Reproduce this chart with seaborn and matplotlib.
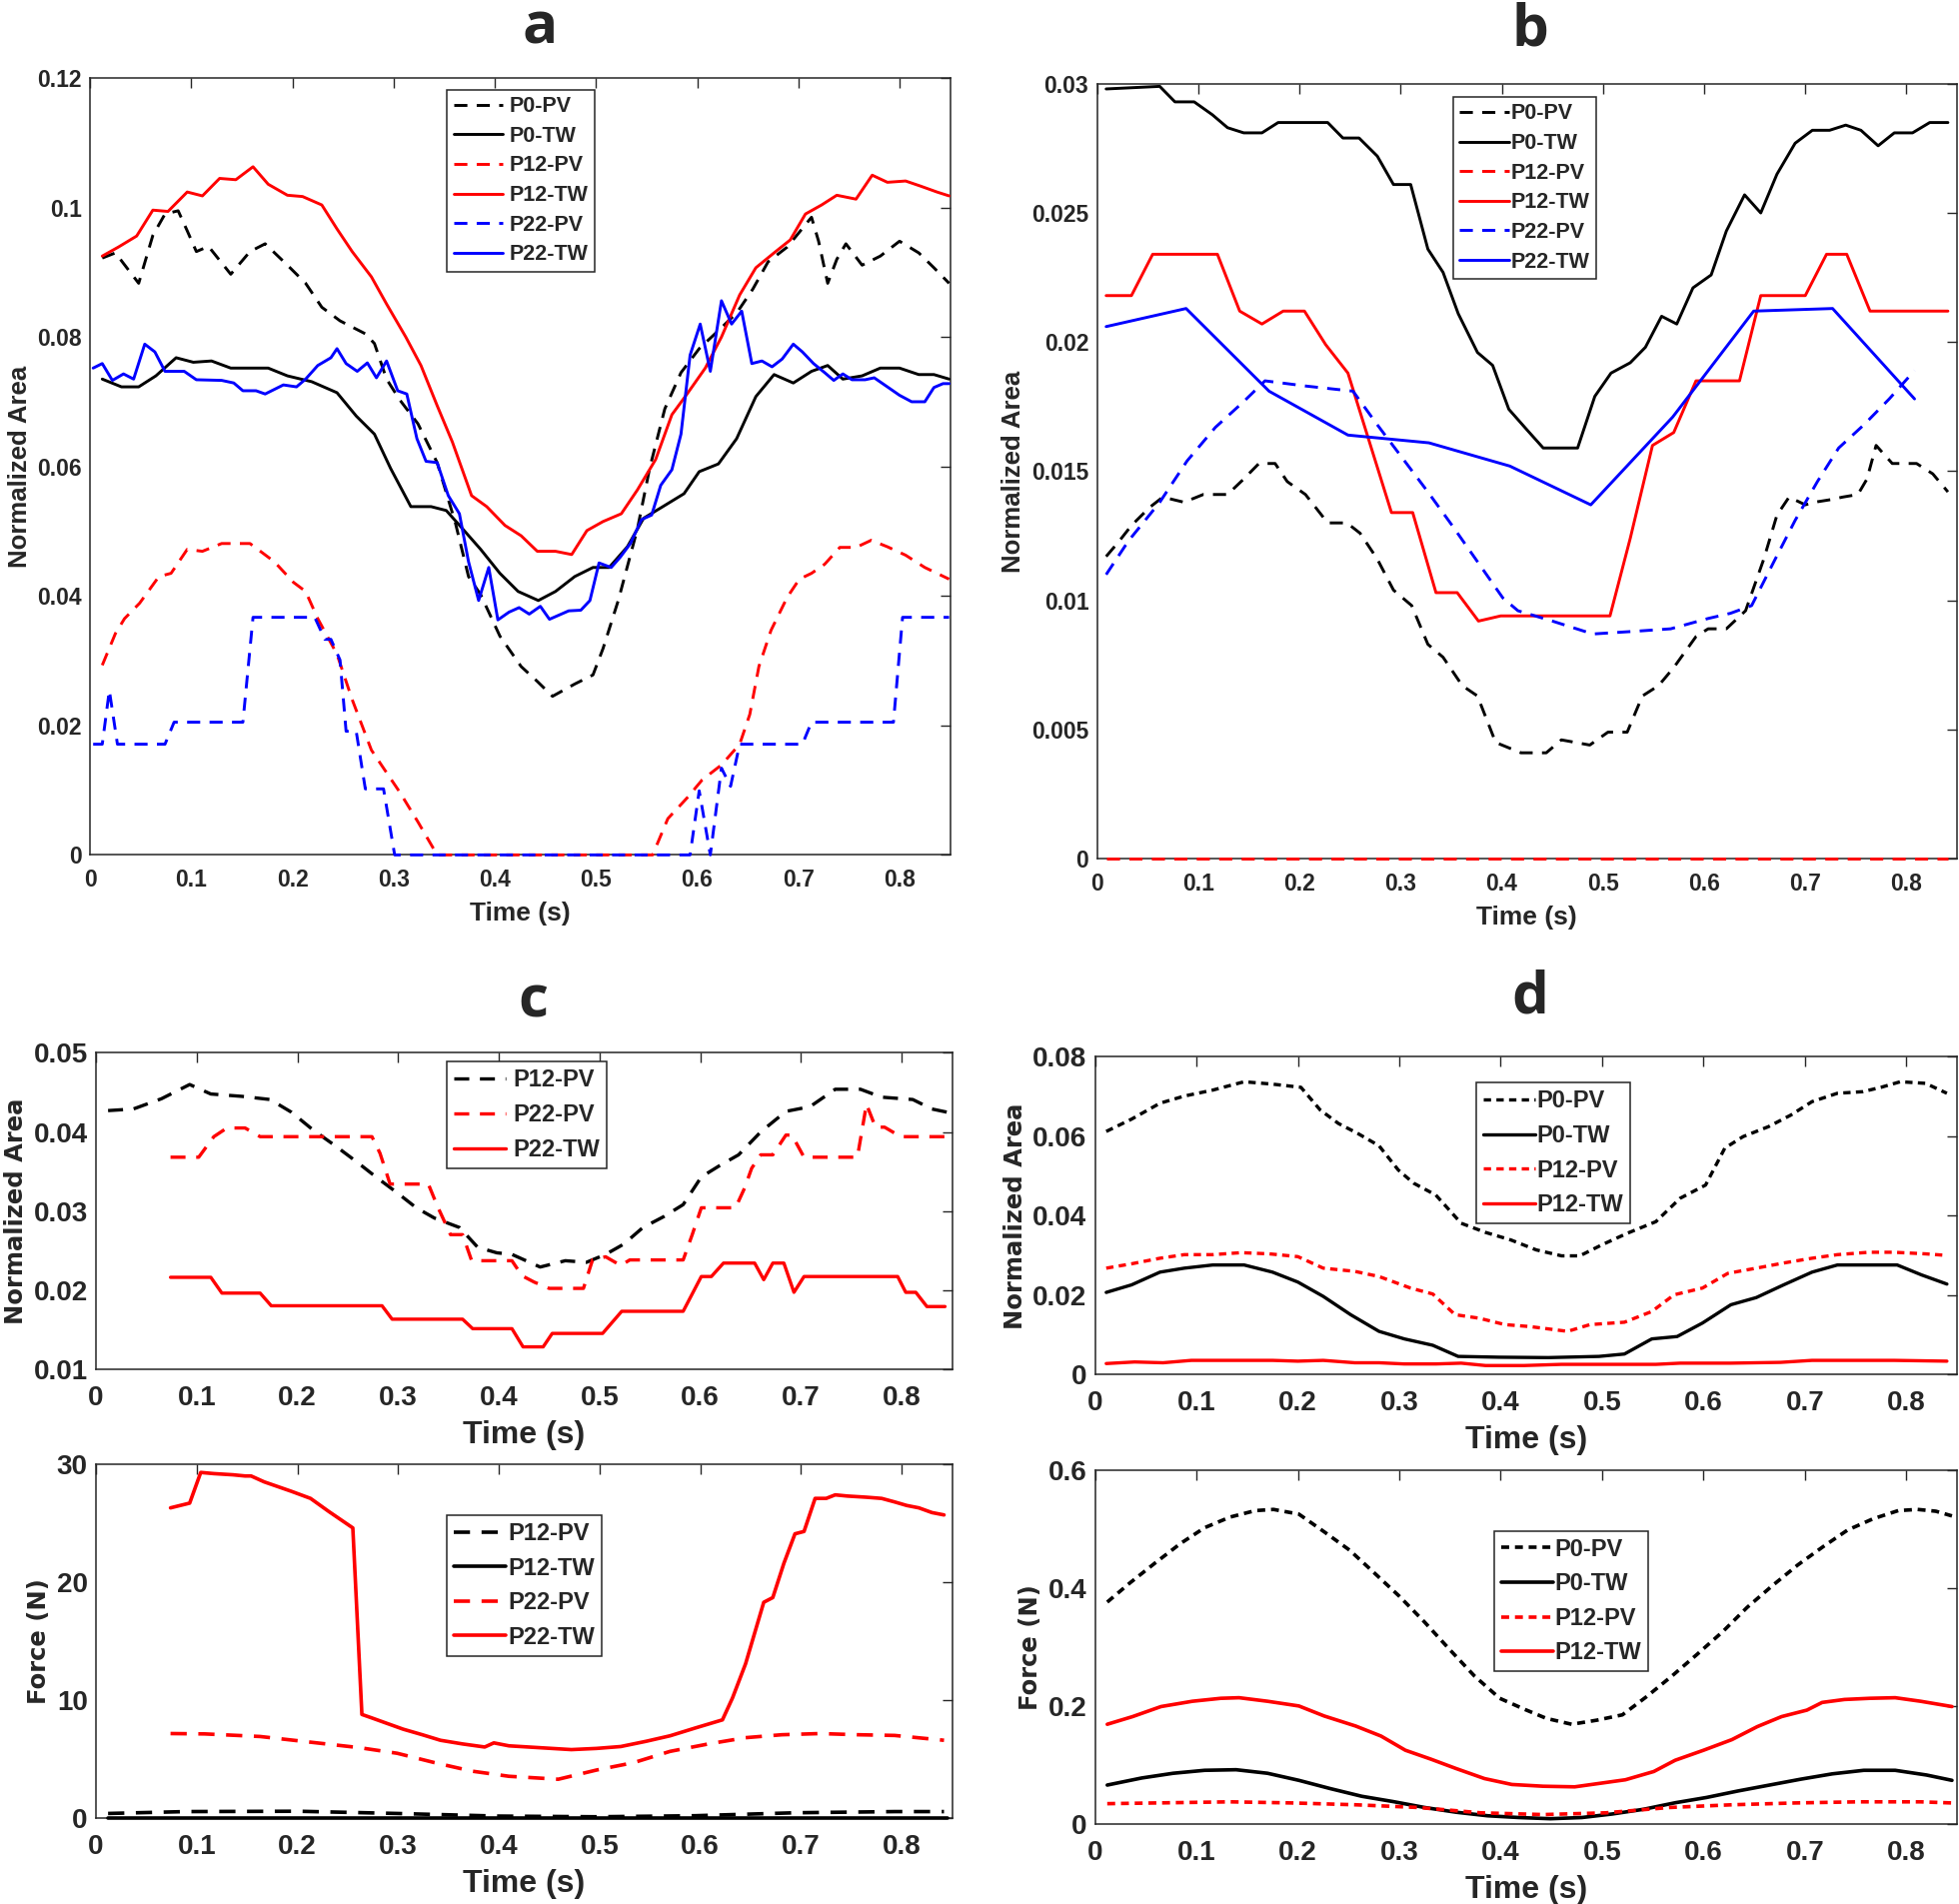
import numpy as np
import pandas as pd
import matplotlib
matplotlib.use("Agg")
import matplotlib.pyplot as plt
import seaborn as sns
from matplotlib import font_manager

sns.set_style("white")
plt.rcParams["font.family"] = ["Liberation Sans", "DejaVu Sans"]

names = {f.name for f in font_manager.fontManager.ttflist}
NARROW = "Liberation Sans Narrow" if "Liberation Sans Narrow" in names else "Liberation Sans"

# ---------------- panel a : normalized area ----------------
a_p0pv_t = [0.012, 0.025, 0.048, 0.062, 0.074, 0.087, 0.096, 0.105, 0.117, 0.139, 0.158, 0.173, 0.195, 0.213,
            0.229, 0.247, 0.272, 0.281, 0.293, 0.306, 0.324, 0.343, 0.361, 0.374, 0.386, 0.405, 0.426, 0.442,
            0.457, 0.479, 0.497, 0.507, 0.522, 0.541, 0.553, 0.568, 0.584, 0.602, 0.621, 0.639, 0.655, 0.670,
            0.689, 0.701, 0.713, 0.720, 0.729, 0.738, 0.747, 0.763, 0.781, 0.800, 0.819, 0.834, 0.849]
a_p0pv = [0.0922, 0.0930, 0.0883, 0.0957, 0.0990, 0.0995, 0.0964, 0.0932, 0.0940, 0.0897, 0.0932, 0.0944,
          0.0911, 0.0883, 0.0846, 0.0825, 0.0805, 0.0790, 0.0735, 0.0703, 0.0666, 0.0606, 0.0513, 0.0430,
          0.0402, 0.0338, 0.0291, 0.0268, 0.0245, 0.0264, 0.0278, 0.0319, 0.0393, 0.0504, 0.0597, 0.0689,
          0.0745, 0.0782, 0.0810, 0.0837, 0.0874, 0.0916, 0.0939, 0.0962, 0.0985, 0.0948, 0.0883, 0.0920,
          0.0944, 0.0911, 0.0925, 0.0948, 0.0930, 0.0907, 0.0883]

a_p0tw_t = [0.012, 0.031, 0.048, 0.065, 0.085, 0.102, 0.120, 0.139, 0.158, 0.176, 0.195, 0.219, 0.244, 0.263,
            0.281, 0.297, 0.317, 0.337, 0.352, 0.368, 0.386, 0.405, 0.423, 0.443, 0.460, 0.479, 0.497, 0.513,
            0.531, 0.547, 0.565, 0.587, 0.602, 0.621, 0.639, 0.658, 0.676, 0.695, 0.713, 0.729, 0.744, 0.763,
            0.781, 0.800, 0.819, 0.834, 0.849]
a_p0tw = [0.0735, 0.0723, 0.0723, 0.0740, 0.0768, 0.0761, 0.0763, 0.0752, 0.0752, 0.0752, 0.0740, 0.0731,
          0.0714, 0.0678, 0.0650, 0.0597, 0.0538, 0.0538, 0.0532, 0.0504, 0.0472, 0.0435, 0.0407, 0.0393,
          0.0407, 0.0430, 0.0444, 0.0444, 0.0476, 0.0520, 0.0537, 0.0558, 0.0592, 0.0604, 0.0643, 0.0708,
          0.0742, 0.0729, 0.0747, 0.0756, 0.0735, 0.0740, 0.0752, 0.0752, 0.0742, 0.0742, 0.0735]

a_p12pv_t = [0.012, 0.025, 0.034, 0.049, 0.068, 0.080, 0.096, 0.111, 0.130, 0.158, 0.182, 0.201, 0.213, 0.225,
             0.244, 0.259, 0.278, 0.290, 0.306, 0.324, 0.343, 0.556, 0.571, 0.590, 0.605, 0.624, 0.642, 0.652,
             0.661, 0.673, 0.689, 0.701, 0.713, 0.726, 0.741, 0.757, 0.772, 0.788, 0.806, 0.825, 0.849]
a_p12pv = [0.0293, 0.0342, 0.0365, 0.0389, 0.0430, 0.0435, 0.0472, 0.0469, 0.0481, 0.0481, 0.0453, 0.0421,
           0.0407, 0.0365, 0.0310, 0.0240, 0.0162, 0.0134, 0.0097, 0.0051, 0.0, 0.0, 0.0056, 0.0088, 0.0116,
           0.0139, 0.0171, 0.0217, 0.0291, 0.0347, 0.0398, 0.0426, 0.0435, 0.0449, 0.0475, 0.0475, 0.0486,
           0.0476, 0.0463, 0.0444, 0.0426]

a_p12tw_t = [0.012, 0.028, 0.046, 0.062, 0.077, 0.096, 0.111, 0.128, 0.144, 0.161, 0.176, 0.195, 0.210, 0.229,
             0.244, 0.259, 0.278, 0.293, 0.312, 0.327, 0.343, 0.358, 0.377, 0.392, 0.410, 0.426, 0.442, 0.460,
             0.476, 0.491, 0.507, 0.525, 0.541, 0.559, 0.575, 0.590, 0.608, 0.624, 0.642, 0.658, 0.676, 0.692,
             0.707, 0.723, 0.738, 0.757, 0.773, 0.788, 0.806, 0.821, 0.837, 0.849]
a_p12tw = [0.0925, 0.0939, 0.0956, 0.0996, 0.0994, 0.1024, 0.1018, 0.1045, 0.1043, 0.1063, 0.1036, 0.1019,
           0.1017, 0.1004, 0.0967, 0.0932, 0.0893, 0.0851, 0.0800, 0.0756, 0.0694, 0.0638, 0.0555, 0.0538,
           0.0509, 0.0493, 0.0469, 0.0469, 0.0464, 0.0501, 0.0515, 0.0527, 0.0564, 0.0611, 0.0680, 0.0712,
           0.0752, 0.0800, 0.0865, 0.0907, 0.0930, 0.0950, 0.0990, 0.1004, 0.1019, 0.1013, 0.1050, 0.1039,
           0.1041, 0.1033, 0.1024, 0.1018]

a_p22pv_t = [0.003, 0.012, 0.019, 0.027, 0.074, 0.083, 0.151, 0.161, 0.222, 0.232, 0.238, 0.247, 0.253, 0.263,
             0.272, 0.290, 0.301, 0.593, 0.602, 0.613, 0.624, 0.633, 0.642, 0.704, 0.713, 0.794, 0.803, 0.849]
a_p22pv = [0.0171, 0.0171, 0.0254, 0.0171, 0.0171, 0.0205, 0.0205, 0.0367, 0.0367, 0.0333, 0.0333, 0.0301,
           0.0191, 0.0191, 0.0102, 0.0102, 0.0, 0.0, 0.0099, 0.0, 0.0134, 0.0106, 0.0171, 0.0171, 0.0205,
           0.0205, 0.0367, 0.0367]

a_p22tw_t = [0.003, 0.012, 0.022, 0.033, 0.043, 0.054, 0.064, 0.074, 0.093, 0.105, 0.130, 0.142, 0.151, 0.164,
             0.173, 0.191, 0.204, 0.213, 0.225, 0.238, 0.244, 0.253, 0.264, 0.274, 0.283, 0.293, 0.304, 0.313,
             0.323, 0.332, 0.343, 0.354, 0.365, 0.374, 0.384, 0.394, 0.403, 0.414, 0.424, 0.434, 0.445, 0.454,
             0.473, 0.485, 0.494, 0.503, 0.515, 0.524, 0.534, 0.545, 0.555, 0.564, 0.575, 0.584, 0.593, 0.603,
             0.613, 0.624, 0.634, 0.644, 0.654, 0.664, 0.674, 0.684, 0.695, 0.704, 0.715, 0.726, 0.735, 0.744,
             0.753, 0.766, 0.775, 0.788, 0.800, 0.812, 0.825, 0.834, 0.843, 0.849]
a_p22tw = [0.0752, 0.0759, 0.0733, 0.0743, 0.0735, 0.0789, 0.0777, 0.0747, 0.0747, 0.0734, 0.0733, 0.0729,
           0.0717, 0.0717, 0.0712, 0.0726, 0.0723, 0.0735, 0.0756, 0.0768, 0.0782, 0.0759, 0.0747, 0.0760,
           0.0737, 0.0763, 0.0717, 0.0712, 0.0643, 0.0608, 0.0606, 0.0555, 0.0527, 0.0453, 0.0393, 0.0444,
           0.0363, 0.0375, 0.0382, 0.0372, 0.0384, 0.0364, 0.0377, 0.0378, 0.0393, 0.0451, 0.0444, 0.0460,
           0.0481, 0.0518, 0.0525, 0.0571, 0.0595, 0.0650, 0.0772, 0.0820, 0.0747, 0.0856, 0.0820, 0.0840,
           0.0759, 0.0763, 0.0754, 0.0766, 0.0789, 0.0777, 0.0759, 0.0745, 0.0733, 0.0743, 0.0734, 0.0734,
           0.0737, 0.0723, 0.0710, 0.0700, 0.0700, 0.0722, 0.0728, 0.0728]

# ---------------- panel b : normalized area ----------------
b_p0pv_t = [0.009, 0.022, 0.034, 0.052, 0.065, 0.086, 0.105, 0.129, 0.145, 0.160, 0.176, 0.188, 0.206, 0.228,
            0.247, 0.260, 0.277, 0.293, 0.311, 0.327, 0.342, 0.361, 0.376, 0.394, 0.419, 0.444, 0.459, 0.487,
            0.505, 0.524, 0.539, 0.555, 0.570, 0.592, 0.604, 0.622, 0.641, 0.659, 0.672, 0.684, 0.700, 0.709,
            0.725, 0.737, 0.752, 0.761, 0.770, 0.786, 0.810, 0.826, 0.841]
b_p0pv = [0.0117, 0.0123, 0.0129, 0.0136, 0.0140, 0.0138, 0.0141, 0.0141, 0.0147, 0.0153, 0.0153, 0.0146,
          0.0141, 0.0130, 0.0130, 0.0126, 0.0116, 0.0104, 0.0098, 0.0083, 0.0078, 0.0067, 0.0063, 0.0045,
          0.0041, 0.0041, 0.0046, 0.0044, 0.0049, 0.0049, 0.0063, 0.0067, 0.0074, 0.0086, 0.0089, 0.0089,
          0.0096, 0.0116, 0.0133, 0.0140, 0.0137, 0.0138, 0.0139, 0.0140, 0.0141, 0.0147, 0.0160, 0.0153,
          0.0153, 0.0149, 0.0142]

b_p0tw_t = [0.009, 0.062, 0.077, 0.096, 0.114, 0.129, 0.145, 0.163, 0.179, 0.228, 0.243, 0.259, 0.277, 0.293,
            0.310, 0.327, 0.342, 0.357, 0.376, 0.391, 0.407, 0.425, 0.441, 0.475, 0.492, 0.508, 0.527, 0.542,
            0.558, 0.573, 0.589, 0.607, 0.622, 0.640, 0.656, 0.672, 0.690, 0.707, 0.724, 0.740, 0.755, 0.772,
            0.788, 0.806, 0.823, 0.841]
b_p0tw = [0.0298, 0.0299, 0.0293, 0.0293, 0.0288, 0.0283, 0.0281, 0.0281, 0.0285, 0.0285, 0.0279, 0.0279,
          0.0272, 0.0261, 0.0261, 0.0236, 0.0227, 0.0211, 0.0196, 0.0191, 0.0174, 0.0166, 0.0159, 0.0159,
          0.0179, 0.0188, 0.0192, 0.0198, 0.0210, 0.0207, 0.0221, 0.0226, 0.0243, 0.0257, 0.0250, 0.0265,
          0.0277, 0.0282, 0.0282, 0.0284, 0.0282, 0.0276, 0.0281, 0.0281, 0.0285, 0.0285]

b_p12pv_t = [0.009, 0.841]
b_p12pv = [0.0, 0.0]

b_p12tw_t = [0.009, 0.034, 0.055, 0.119, 0.141, 0.163, 0.184, 0.205, 0.226, 0.248, 0.291, 0.312, 0.335, 0.356,
             0.377, 0.399, 0.507, 0.527, 0.549, 0.570, 0.592, 0.635, 0.656, 0.700, 0.721, 0.741, 0.764, 0.786,
             0.807, 0.841]
b_p12tw = [0.0218, 0.0218, 0.0234, 0.0234, 0.0212, 0.0207, 0.0212, 0.0212, 0.0199, 0.0188, 0.0134, 0.0134,
           0.0103, 0.0103, 0.0092, 0.0094, 0.0094, 0.0124, 0.0160, 0.0165, 0.0185, 0.0185, 0.0218, 0.0218,
           0.0234, 0.0234, 0.0212, 0.0212, 0.0212, 0.0212]

b_p22pv_t = [0.009, 0.031, 0.062, 0.089, 0.117, 0.145, 0.166, 0.206, 0.253, 0.277, 0.302, 0.327, 0.351, 0.376,
             0.401, 0.416, 0.450, 0.490, 0.530, 0.567, 0.604, 0.626, 0.647, 0.669, 0.690, 0.712, 0.733, 0.758,
             0.783, 0.808]
b_p22pv = [0.0110, 0.0123, 0.0138, 0.0154, 0.0167, 0.0177, 0.0185, 0.0183, 0.0181, 0.0168, 0.0155, 0.0142,
           0.0129, 0.0115, 0.0101, 0.0096, 0.0092, 0.0087, 0.0088, 0.0089, 0.0093, 0.0095, 0.0098, 0.0115,
           0.0131, 0.0146, 0.0159, 0.0168, 0.0178, 0.0189]

b_p22tw_t = [0.009, 0.088, 0.170, 0.248, 0.328, 0.408, 0.488, 0.569, 0.649, 0.727, 0.808]
b_p22tw = [0.0206, 0.0213, 0.0181, 0.0164, 0.0161, 0.0152, 0.0137, 0.0171, 0.0212, 0.0213, 0.0178]

# ---------------- panel c (top) : normalized area ----------------
c_p12pv_t = [0.012, 0.037, 0.065, 0.093, 0.114, 0.145, 0.173, 0.194, 0.216, 0.237, 0.259, 0.278, 0.299, 0.318,
             0.336, 0.361, 0.379, 0.398, 0.413, 0.441, 0.466, 0.487, 0.506, 0.524, 0.543, 0.564, 0.583, 0.601,
             0.620, 0.638, 0.660, 0.685, 0.709, 0.734, 0.759, 0.780, 0.811, 0.830, 0.845]
c_p12pv = [0.0427, 0.0429, 0.0442, 0.0460, 0.0448, 0.0445, 0.0441, 0.0425, 0.0402, 0.0383, 0.0362, 0.0343,
           0.0323, 0.0304, 0.0291, 0.0279, 0.0254, 0.0247, 0.0245, 0.0229, 0.0237, 0.0235, 0.0245, 0.0258,
           0.0279, 0.0293, 0.0308, 0.0343, 0.0358, 0.0371, 0.0400, 0.0426, 0.0432, 0.0454, 0.0454, 0.0444,
           0.0441, 0.0429, 0.0425]

c_p22pv_t = [0.074, 0.102, 0.117, 0.130, 0.148, 0.163, 0.274, 0.282, 0.292, 0.330, 0.339, 0.352, 0.364, 0.373,
             0.413, 0.423, 0.435, 0.450, 0.484, 0.493, 0.506, 0.521, 0.530, 0.583, 0.592, 0.601, 0.635, 0.644,
             0.651, 0.660, 0.672, 0.685, 0.691, 0.703, 0.756, 0.765, 0.774, 0.783, 0.799, 0.845]
c_p22pv = [0.0368, 0.0368, 0.0394, 0.0405, 0.0405, 0.0394, 0.0394, 0.0373, 0.0334, 0.0334, 0.0306, 0.0270,
           0.0270, 0.0237, 0.0237, 0.0218, 0.0210, 0.0202, 0.0202, 0.0238, 0.0242, 0.0231, 0.0238, 0.0238,
           0.0270, 0.0304, 0.0304, 0.0329, 0.0354, 0.0371, 0.0371, 0.0396, 0.0396, 0.0368, 0.0368, 0.0435,
           0.0406, 0.0406, 0.0394, 0.0394]

c_p22tw_t = [0.074, 0.114, 0.125, 0.163, 0.174, 0.284, 0.294, 0.364, 0.374, 0.413, 0.424, 0.444, 0.453, 0.503,
             0.522, 0.583, 0.601, 0.611, 0.623, 0.654, 0.663, 0.672, 0.683, 0.693, 0.703, 0.796, 0.804, 0.814,
             0.825, 0.843]
c_p22tw = [0.0216, 0.0216, 0.0196, 0.0196, 0.0180, 0.0180, 0.0163, 0.0163, 0.0151, 0.0151, 0.0128, 0.0128,
           0.0145, 0.0145, 0.0173, 0.0173, 0.0217, 0.0217, 0.0234, 0.0234, 0.0213, 0.0234, 0.0234, 0.0197,
           0.0217, 0.0217, 0.0197, 0.0197, 0.0179, 0.0179]

# ---------------- panel c (bottom) : force ----------------
cf_p12pv_t = [0.012, 0.089, 0.200, 0.299, 0.398, 0.497, 0.595, 0.694, 0.793, 0.842]
cf_p12pv = [0.41, 0.57, 0.60, 0.41, 0.19, 0.13, 0.22, 0.47, 0.57, 0.57]

cf_p12tw_t = [0.012, 0.845]
cf_p12tw = [0.02, 0.02]

cf_p22pv_t = [0.074, 0.108, 0.163, 0.213, 0.262, 0.299, 0.336, 0.373, 0.410, 0.459, 0.497, 0.534, 0.570, 0.608,
              0.645, 0.681, 0.719, 0.756, 0.793, 0.842]
cf_p22pv = [7.18, 7.15, 6.93, 6.45, 5.98, 5.51, 4.72, 4.00, 3.56, 3.31, 4.09, 4.72, 5.67, 6.30, 6.83, 7.08,
            7.18, 7.08, 7.02, 6.61]

cf_p22tw_t = [0.074, 0.093, 0.104, 0.117, 0.136, 0.148, 0.154, 0.167, 0.194, 0.213, 0.231, 0.255, 0.264, 0.274,
              0.287, 0.305, 0.324, 0.342, 0.364, 0.386, 0.395, 0.410, 0.441, 0.472, 0.497, 0.521, 0.546, 0.570,
              0.595, 0.622, 0.632, 0.645, 0.663, 0.672, 0.683, 0.694, 0.703, 0.714, 0.725, 0.734, 0.746, 0.765,
              0.780, 0.793, 0.805, 0.817, 0.830, 0.842]
cf_p22tw = [26.3, 26.7, 29.3, 29.2, 29.1, 29.0, 29.0, 28.5, 27.7, 27.1, 26.0, 24.6, 8.8, 8.5, 8.1, 7.55, 7.08,
            6.61, 6.30, 6.04, 6.39, 6.14, 5.98, 5.82, 5.92, 6.08, 6.52, 6.99, 7.65, 8.34, 10.2, 13.1, 18.3,
            18.7, 21.6, 24.1, 24.3, 27.1, 27.1, 27.4, 27.3, 27.2, 27.1, 26.8, 26.5, 26.3, 25.9, 25.7]

# ---------------- panel d (top) : normalized area ----------------
d_p0pv_t = [0.011, 0.036, 0.064, 0.088, 0.116, 0.147, 0.175, 0.203, 0.222, 0.240, 0.259, 0.280, 0.299, 0.314,
            0.336, 0.361, 0.385, 0.410, 0.435, 0.460, 0.478, 0.500, 0.525, 0.553, 0.577, 0.602, 0.621, 0.639,
            0.664, 0.686, 0.707, 0.732, 0.757, 0.775, 0.794, 0.819, 0.840]
d_p0pv = [0.0612, 0.0643, 0.0683, 0.0701, 0.0716, 0.0737, 0.0731, 0.0723, 0.0666, 0.0632, 0.0607, 0.0576,
          0.0515, 0.0482, 0.0452, 0.0381, 0.0358, 0.0339, 0.0314, 0.0299, 0.0299, 0.0327, 0.0356, 0.0385,
          0.0444, 0.0477, 0.0570, 0.0599, 0.0624, 0.0653, 0.0687, 0.0708, 0.0712, 0.0723, 0.0737, 0.0733,
          0.0708]

d_p0tw_t = [0.011, 0.036, 0.064, 0.088, 0.116, 0.147, 0.175, 0.200, 0.225, 0.252, 0.280, 0.305, 0.333, 0.358,
            0.398, 0.447, 0.497, 0.522, 0.549, 0.574, 0.599, 0.627, 0.652, 0.679, 0.707, 0.732, 0.791, 0.815,
            0.840]
d_p0tw = [0.0207, 0.0226, 0.0258, 0.0268, 0.0276, 0.0276, 0.0258, 0.0233, 0.0197, 0.0151, 0.0109, 0.0090,
          0.0074, 0.0046, 0.0044, 0.0043, 0.0046, 0.0052, 0.0090, 0.0096, 0.0130, 0.0176, 0.0194, 0.0226,
          0.0258, 0.0276, 0.0276, 0.0251, 0.0228]

d_p12pv_t = [0.011, 0.036, 0.064, 0.088, 0.116, 0.144, 0.172, 0.200, 0.225, 0.256, 0.280, 0.311, 0.333, 0.355,
             0.379, 0.404, 0.429, 0.466, 0.488, 0.522, 0.549, 0.571, 0.599, 0.624, 0.652, 0.679, 0.707, 0.732,
             0.763, 0.788, 0.819, 0.840]
d_p12pv = [0.0268, 0.0279, 0.0293, 0.0302, 0.0302, 0.0307, 0.0304, 0.0297, 0.0268, 0.0260, 0.0247, 0.0218,
           0.0203, 0.0151, 0.0142, 0.0126, 0.0121, 0.0109, 0.0126, 0.0132, 0.0159, 0.0201, 0.0218, 0.0255,
           0.0268, 0.0281, 0.0293, 0.0302, 0.0308, 0.0308, 0.0304, 0.0300]

d_p12tw_t = [0.011, 0.039, 0.067, 0.095, 0.119, 0.144, 0.175, 0.200, 0.225, 0.256, 0.280, 0.305, 0.336, 0.361,
             0.385, 0.423, 0.460, 0.503, 0.553, 0.577, 0.627, 0.676, 0.707, 0.788, 0.840]
d_p12tw = [0.0028, 0.0032, 0.0030, 0.0036, 0.0036, 0.0036, 0.0036, 0.0034, 0.0036, 0.0030, 0.0030, 0.0027,
           0.0027, 0.0029, 0.0023, 0.0023, 0.0026, 0.0026, 0.0026, 0.0029, 0.0029, 0.0031, 0.0036, 0.0036,
           0.0034]

# ---------------- panel d (bottom) : force ----------------
df_p0pv_t = [0.012, 0.034, 0.059, 0.084, 0.108, 0.133, 0.158, 0.176, 0.201, 0.226, 0.251, 0.275, 0.300, 0.325,
             0.350, 0.374, 0.399, 0.424, 0.445, 0.470, 0.495, 0.520, 0.544, 0.569, 0.594, 0.619, 0.643, 0.668,
             0.693, 0.718, 0.742, 0.767, 0.792, 0.811, 0.829, 0.845]
df_p0pv = [0.376, 0.408, 0.442, 0.475, 0.502, 0.520, 0.531, 0.533, 0.525, 0.495, 0.464, 0.426, 0.386, 0.342,
           0.295, 0.251, 0.213, 0.194, 0.179, 0.169, 0.176, 0.185, 0.216, 0.251, 0.288, 0.326, 0.367, 0.404,
           0.439, 0.470, 0.498, 0.517, 0.531, 0.533, 0.530, 0.522]

df_p0tw_t = [0.012, 0.046, 0.077, 0.108, 0.139, 0.170, 0.201, 0.232, 0.263, 0.294, 0.325, 0.356, 0.387, 0.418,
             0.449, 0.480, 0.510, 0.541, 0.572, 0.603, 0.634, 0.665, 0.696, 0.727, 0.758, 0.789, 0.820, 0.845]
df_p0tw = [0.066, 0.078, 0.086, 0.091, 0.092, 0.086, 0.074, 0.060, 0.047, 0.038, 0.028, 0.020, 0.014, 0.011,
           0.009, 0.011, 0.017, 0.025, 0.036, 0.045, 0.056, 0.066, 0.076, 0.085, 0.091, 0.091, 0.083, 0.074]

df_p12pv_t = [0.012, 0.071, 0.133, 0.195, 0.257, 0.319, 0.380, 0.442, 0.504, 0.566, 0.628, 0.690, 0.752, 0.814,
              0.845]
df_p12pv = [0.0345, 0.036, 0.0376, 0.0357, 0.0326, 0.028, 0.019, 0.016, 0.019, 0.028, 0.0326, 0.0357, 0.0376,
            0.0376, 0.0357]

df_p12tw_t = [0.012, 0.037, 0.065, 0.096, 0.124, 0.142, 0.170, 0.201, 0.226, 0.257, 0.282, 0.306, 0.331, 0.356,
              0.384, 0.411, 0.442, 0.473, 0.498, 0.523, 0.551, 0.572, 0.600, 0.628, 0.653, 0.677, 0.702, 0.717,
              0.739, 0.764, 0.789, 0.814, 0.845]
df_p12tw = [0.169, 0.182, 0.199, 0.208, 0.213, 0.214, 0.208, 0.200, 0.183, 0.166, 0.149, 0.125, 0.110, 0.094,
            0.077, 0.067, 0.064, 0.063, 0.069, 0.075, 0.089, 0.108, 0.125, 0.143, 0.165, 0.182, 0.193, 0.206,
            0.211, 0.213, 0.214, 0.208, 0.199]

x_ticks = [0, 0.1, 0.2, 0.3, 0.4, 0.5, 0.6, 0.7, 0.8]
x_labels = ["0", "0.1", "0.2", "0.3", "0.4", "0.5", "0.6", "0.7", "0.8"]

RED = "#ff0000"
BLUE = "#0000ff"
BLACK = "#000000"
DASH = (0, (4.5, 3.2))
DOT = (0, (2.2, 1.6))

W, H = 1960, 1905
fig = plt.figure(figsize=(W / 100, H / 100), dpi=100)


def draw(ax, series, lw):
    for t, v, color, ls, label in series:
        d = pd.DataFrame({"t": t, "v": v})
        sns.lineplot(data=d, x="t", y="v", ax=ax, color=color, linestyle=ls, lw=lw,
                     estimator=None, sort=False, label=label, clip_on=False, zorder=3)


def style(ax, yticks, ylabels, ylim, ylabel, tick_font, tick_size, xpad, xlab_font, xlab_size,
          xlabelpad, ylab_font, ylab_size):
    ax.set_xlim(0, 0.85)
    ax.set_ylim(*ylim)
    ax.set_xticks(x_ticks, x_labels)
    ax.set_yticks(yticks, ylabels)
    ax.tick_params(direction="in", top=True, right=True, length=7, width=1)
    ax.tick_params(axis="x", pad=xpad)
    ax.tick_params(axis="y", pad=6)
    for lab in ax.get_xticklabels() + ax.get_yticklabels():
        lab.set_family(tick_font)
        lab.set_weight("bold")
        lab.set_size(tick_size)
    ax.set_xlabel("Time (s)", family=xlab_font, weight="bold", size=xlab_size, labelpad=xlabelpad)
    ax.set_ylabel(ylabel, family=ylab_font, weight="bold", size=ylab_size, labelpad=4)
    for s in ax.spines.values():
        s.set_color("#262626")
        s.set_linewidth(1.1)


def legend(ax, x, y, size, hl, pad, spacing):
    lg = ax.legend(loc="upper left", bbox_to_anchor=(x, y), borderaxespad=0, frameon=True,
                   fancybox=False, framealpha=1, edgecolor="#262626", handlelength=hl,
                   handletextpad=pad, labelspacing=spacing, borderpad=0.3,
                   prop={"family": "Liberation Sans", "weight": "bold", "size": size})
    lg.get_frame().set_linewidth(1.1)
    lg.set_zorder(5)


# ---- a ----
ax = fig.add_axes([0.046, 0.551, 0.439, 0.408])
draw(ax, [(a_p0pv_t, a_p0pv, BLACK, DASH, "P0-PV"),
          (a_p0tw_t, a_p0tw, BLACK, "-", "P0-TW"),
          (a_p12pv_t, a_p12pv, RED, DASH, "P12-PV"),
          (a_p12tw_t, a_p12tw, RED, "-", "P12-TW"),
          (a_p22pv_t, a_p22pv, BLUE, DASH, "P22-PV"),
          (a_p22tw_t, a_p22tw, BLUE, "-", "P22-TW")], 2.1)
style(ax, [0, 0.02, 0.04, 0.06, 0.08, 0.1, 0.12], ["0", "0.02", "0.04", "0.06", "0.08", "0.1", "0.12"],
      (0, 0.12), "Normalized Area", "Liberation Sans", 16.5, 10, "Liberation Sans", 19, 7,
      "Liberation Sans", 18.5)
legend(ax, 0.415, 0.985, 15.5, 2.3, 0.3, 0.4)

# ---- b ----
ax = fig.add_axes([0.560, 0.549, 0.439, 0.407])
draw(ax, [(b_p0pv_t, b_p0pv, BLACK, DASH, "P0-PV"),
          (b_p0tw_t, b_p0tw, BLACK, "-", "P0-TW"),
          (b_p12pv_t, b_p12pv, RED, DASH, "P12-PV"),
          (b_p12tw_t, b_p12tw, RED, "-", "P12-TW"),
          (b_p22pv_t, b_p22pv, BLUE, DASH, "P22-PV"),
          (b_p22tw_t, b_p22tw, BLUE, "-", "P22-TW")], 2.1)
style(ax, [0, 0.005, 0.01, 0.015, 0.02, 0.025, 0.03],
      ["0", "0.005", "0.01", "0.015", "0.02", "0.025", "0.03"],
      (0, 0.03), "Normalized Area", "Liberation Sans", 16.5, 10, "Liberation Sans", 19, 7,
      "Liberation Sans", 18.5)
legend(ax, 0.414, 0.983, 15.5, 2.3, 0.1, 0.4)

# ---- c top ----
ax = fig.add_axes([0.049, 0.281, 0.437, 0.166])
draw(ax, [(c_p12pv_t, c_p12pv, BLACK, DASH, "P12-PV"),
          (c_p22pv_t, c_p22pv, RED, DASH, "P22-PV"),
          (c_p22tw_t, c_p22tw, RED, "-", "P22-TW")], 2.4)
style(ax, [0.01, 0.02, 0.03, 0.04, 0.05], ["0.01", "0.02", "0.03", "0.04", "0.05"],
      (0.01, 0.05), "Normalized Area", NARROW, 20, 11.5, NARROW, 23, 6.5, "DejaVu Sans", 17.5)
legend(ax, 0.41, 0.972, 17, 2.2, 0.3, 0.5)

# ---- c bottom ----
ax = fig.add_axes([0.049, 0.045, 0.437, 0.186])
draw(ax, [(cf_p12pv_t, cf_p12pv, BLACK, DASH, "P12-PV"),
          (cf_p12tw_t, cf_p12tw, BLACK, "-", "P12-TW"),
          (cf_p22pv_t, cf_p22pv, RED, DASH, "P22-PV"),
          (cf_p22tw_t, cf_p22tw, RED, "-", "P22-TW")], 2.6)
style(ax, [0, 10, 20, 30], ["0", "10", "20", "30"], (0, 30), "Force (N)",
      NARROW, 20, 11.5, NARROW, 23, 6.5, "DejaVu Sans", 17.5)
legend(ax, 0.41, 0.856, 17, 2.2, 0.1, 0.49)

# ---- d top ----
ax = fig.add_axes([0.559, 0.278, 0.440, 0.167])
draw(ax, [(d_p0pv_t, d_p0pv, BLACK, DOT, "P0-PV"),
          (d_p0tw_t, d_p0tw, BLACK, "-", "P0-TW"),
          (d_p12pv_t, d_p12pv, RED, DOT, "P12-PV"),
          (d_p12tw_t, d_p12tw, RED, "-", "P12-TW")], 2.4)
style(ax, [0, 0.02, 0.04, 0.06, 0.08], ["0", "0.02", "0.04", "0.06", "0.08"],
      (0, 0.08), "Normalized Area", NARROW, 20, 11.5, NARROW, 23, 6.5, "DejaVu Sans", 17.5)
legend(ax, 0.442, 0.918, 17, 2.2, 0.05, 0.49)

# ---- d bottom ----
ax = fig.add_axes([0.559, 0.042, 0.440, 0.186])
draw(ax, [(df_p0pv_t, df_p0pv, BLACK, DOT, "P0-PV"),
          (df_p0tw_t, df_p0tw, BLACK, "-", "P0-TW"),
          (df_p12pv_t, df_p12pv, RED, DOT, "P12-PV"),
          (df_p12tw_t, df_p12tw, RED, "-", "P12-TW")], 2.6)
style(ax, [0, 0.2, 0.4, 0.6], ["0", "0.2", "0.4", "0.6"], (0, 0.6), "Force (N)",
      NARROW, 20, 11.5, NARROW, 23, 6.5, "DejaVu Sans", 17.5)
legend(ax, 0.463, 0.828, 17, 2.2, 0.05, 0.49)

# panel letters
for letter, x, y in [("a", 0.2755, 0.985), ("b", 0.781, 0.984), ("c", 0.272, 0.474), ("d", 0.781, 0.476)]:
    fig.text(x, y, letter, ha="center", va="center", family=["Open Sans", "DejaVu Sans"],
             weight="bold", size=42)

fig.savefig("out.png", dpi=100)
